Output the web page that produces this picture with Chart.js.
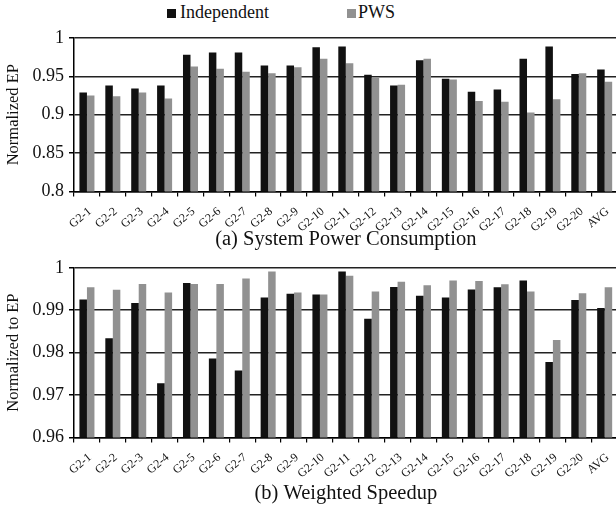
<!DOCTYPE html>
<html>
<head>
<meta charset="utf-8">
<script src="https://cdn.jsdelivr.net/npm/chart.js@4"></script>
<style>
    html, body { margin: 0; padding: 0; background: #fff; overflow: hidden; width: 616px; height: 507px; }
    body { position: relative; }
    .box { position: absolute; left: 0; width: 622px; }
    #legend { position: absolute; top: 0; left: 0; width: 616px; height: 26px; font-size: 18px; color: #111;
        font-family: "Liberation Serif", "Times New Roman", serif; }
    .sw { position: absolute; width: 9px; height: 9px; top: 9px; }
    .lbl { position: absolute; top: 2px; line-height: 20px; }
</style>
</head>
<body>
<div id="legend">
    <span class="sw" style="left:167px;background:#111;"></span><span class="lbl" style="left:180px;">Independent</span>
    <span class="sw" style="left:347px;background:#919191;"></span><span class="lbl" style="left:358px;">PWS</span>
</div>
<div class="box" style="top:0;height:256px;"><canvas id="powerChart"></canvas></div>
<div class="box" style="top:252px;height:255px;"><canvas id="speedupChart"></canvas></div>
<script>
const categories = ['G2-1', 'G2-2', 'G2-3', 'G2-4', 'G2-5', 'G2-6', 'G2-7', 'G2-8', 'G2-9', 'G2-10',
    'G2-11', 'G2-12', 'G2-13', 'G2-14', 'G2-15', 'G2-16', 'G2-17', 'G2-18', 'G2-19', 'G2-20', 'AVG'];

// (a) System Power Consumption, normalized EP
const epIndependent = [0.929, 0.938, 0.934, 0.938, 0.978, 0.981, 0.981, 0.964, 0.964, 0.988,
    0.989, 0.952, 0.938, 0.971, 0.947, 0.930, 0.933, 0.973, 0.989, 0.953, 0.959];
const epPws = [0.925, 0.924, 0.929, 0.921, 0.963, 0.960, 0.956, 0.954, 0.962, 0.973,
    0.967, 0.949, 0.939, 0.973, 0.946, 0.918, 0.917, 0.903, 0.920, 0.954, 0.943];

// (b) Weighted Speedup, normalized to EP
const wsIndependent = [0.9925, 0.9834, 0.9917, 0.9728, 0.9964, 0.9786, 0.9758, 0.9930, 0.9939, 0.9937,
    0.9991, 0.9880, 0.9955, 0.9934, 0.9930, 0.9949, 0.9954, 0.9970, 0.9778, 0.9924, 0.9905];
const wsPws = [0.9954, 0.9948, 0.9962, 0.9942, 0.9962, 0.9962, 0.9975, 0.9991, 0.9942, 0.9937,
    0.9981, 0.9944, 0.9967, 0.9959, 0.9970, 0.9969, 0.9961, 0.9944, 0.9830, 0.9940, 0.9954];

const powerTicks = { min: 0.8, max: 1, step: 0.05 };
const speedupTicks = { min: 0.96, max: 1, step: 0.01 };

const serif = '"Liberation Serif", "Times New Roman", serif';

// tick labels like 0.8, 0.85, 1 (no padded zeros)
function shortNumber(v) {
    return String(parseFloat(Number(v).toFixed(4)));
}

function makeChart(canvasId, indep, pws, yTitle, ticks, title, opts) {
    const ctx = document.getElementById(canvasId).getContext('2d');
    return new Chart(ctx, {
        type: 'bar',
        data: {
            labels: categories,
            datasets: [{
                label: 'Independent',
                data: indep,
                backgroundColor: '#111111',
                categoryPercentage: 0.58,
                barPercentage: 1.0
            }, {
                label: 'PWS',
                data: pws,
                backgroundColor: '#919191',
                categoryPercentage: 0.58,
                barPercentage: 1.0
            }]
        },
        options: {
            responsive: true,
            maintainAspectRatio: false,
            animation: false,
            layout: { padding: { top: opts.padTop, right: 3, left: 0, bottom: 0 } },
            plugins: {
                legend: { display: false },
                tooltip: { enabled: false },
                title: {
                    display: true,
                    position: 'bottom',
                    fullSize: false, // center under the plot area, not the canvas
                    text: title,
                    color: '#111',
                    font: { family: serif, size: 20.5, weight: 'normal' },
                    // title overlaps the tall x scale box a little, hence the negative top
                    padding: { top: opts.titleTop, bottom: opts.titleBottom }
                }
            },
            scales: {
                x: {
                    afterFit: function (s) { s.height = opts.xHeight; },
                    grid: {
                        offset: true,
                        drawOnChartArea: false,
                        color: '#000',
                        tickLength: 5,
                        lineWidth: 1.2
                    },
                    border: { color: '#000', width: 1.5 },
                    ticks: {
                        color: '#111',
                        font: { family: serif, size: 12 },
                        minRotation: 40,
                        maxRotation: 40,
                        labelOffset: 3,
                        padding: 8,
                        autoSkip: false
                    }
                },
                y: {
                    min: ticks.min,
                    max: ticks.max,
                    afterFit: function (s) { s.width = 74; },
                    grid: {
                        color: '#222',
                        lineWidth: 1.5,
                        tickLength: 5,
                        tickColor: '#000'
                    },
                    border: { color: '#000', width: 1.5 },
                    title: {
                        display: true,
                        text: yTitle,
                        color: '#111',
                        font: { family: serif, size: 16.5 },
                        padding: { top: 4, bottom: 0 }
                    },
                    ticks: {
                        stepSize: ticks.step,
                        color: '#111',
                        font: { family: serif, size: 18 },
                        padding: 5,
                        callback: shortNumber
                    }
                }
            }
        }
    });
}

makeChart('powerChart', epIndependent, epPws, 'Normalized EP', powerTicks,
    '(a) System Power Consumption', { padTop: 38, xHeight: 48, titleTop: -12, titleBottom: 4 });
makeChart('speedupChart', wsIndependent, wsPws, 'Normalized to EP', speedupTicks,
    '(b) Weighted Speedup', { padTop: 15, xHeight: 50, titleTop: -6, titleBottom: 1 });
</script>
</body>
</html>
